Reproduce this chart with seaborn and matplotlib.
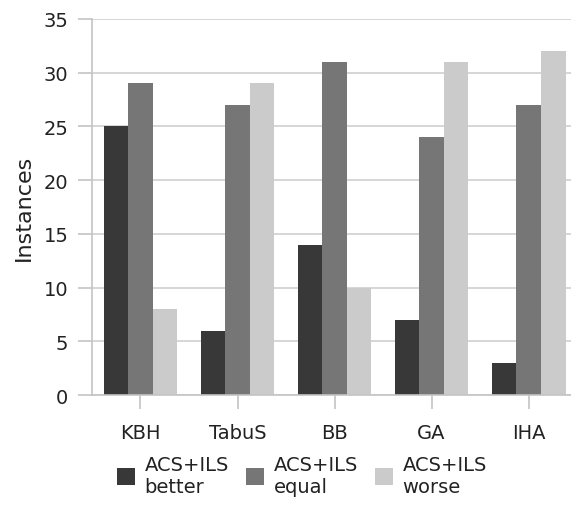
import matplotlib
matplotlib.use("Agg")
import matplotlib.pyplot as plt
import seaborn as sns
import pandas as pd

categories = ["KBH", "TabuS", "BB", "GA", "IHA"]
series_names = ["ACS+ILS\nbetter", "ACS+ILS\nequal", "ACS+ILS\nworse"]
better = [25, 6, 14, 7, 3]
equal = [29, 27, 31, 24, 27]
worse = [8, 29, 10, 31, 32]
y_ticks = [0, 5, 10, 15, 20, 25, 30, 35]

colors = ["#383838", "#767676", "#cbcbcb"]

rows = []
for name, vals in zip(series_names, [better, equal, worse]):
    for cat, v in zip(categories, vals):
        rows.append({"Algorithm": cat, "Result": name, "Instances": v})
df = pd.DataFrame(rows)

sns.set_theme(style="white")
plt.rcParams["font.family"] = ["DejaVu Sans"]

fig = plt.figure(figsize=(5.71, 5.06), dpi=100)
ax = fig.add_axes([0.161, 0.217, 0.86, 0.744])

sns.barplot(data=df, x="Algorithm", y="Instances", hue="Result",
            hue_order=series_names, order=categories, palette=colors,
            width=0.76, gap=0, saturation=1, linewidth=0, ax=ax)

ax.set_ylim(0, 35)
ax.set_xlim(-0.5, 4.56)
ax.set_yticks(y_ticks)
ax.yaxis.grid(True, color="#cfcfcf", linewidth=1.2)
ax.set_axisbelow(True)
for s in ["top", "right"]:
    ax.spines[s].set_visible(False)
for s in ["left", "bottom"]:
    ax.spines[s].set_color("#c4c4c4")
    ax.spines[s].set_linewidth(1.2)
ax.tick_params(axis="both", which="both", length=10, width=1.2,
               color="#c4c4c4", labelsize=14, labelcolor="#222222",
               left=True, bottom=True)
ax.tick_params(axis="y", pad=7)
ax.tick_params(axis="x", pad=10)
ax.set_xlabel("")
ax.set_ylabel("Instances", fontsize=16, color="#222222", labelpad=7)

handles, labels = ax.get_legend_handles_labels()
ax.legend(handles, labels, loc="upper center", bbox_to_anchor=(0.428, -0.113),
          ncol=3, frameon=False, fontsize=14, handlelength=0.9,
          handleheight=0.9, handletextpad=0.5, columnspacing=0.9,
          labelcolor="#222222", labelspacing=0.1)

fig.savefig("out.png", dpi=100)
